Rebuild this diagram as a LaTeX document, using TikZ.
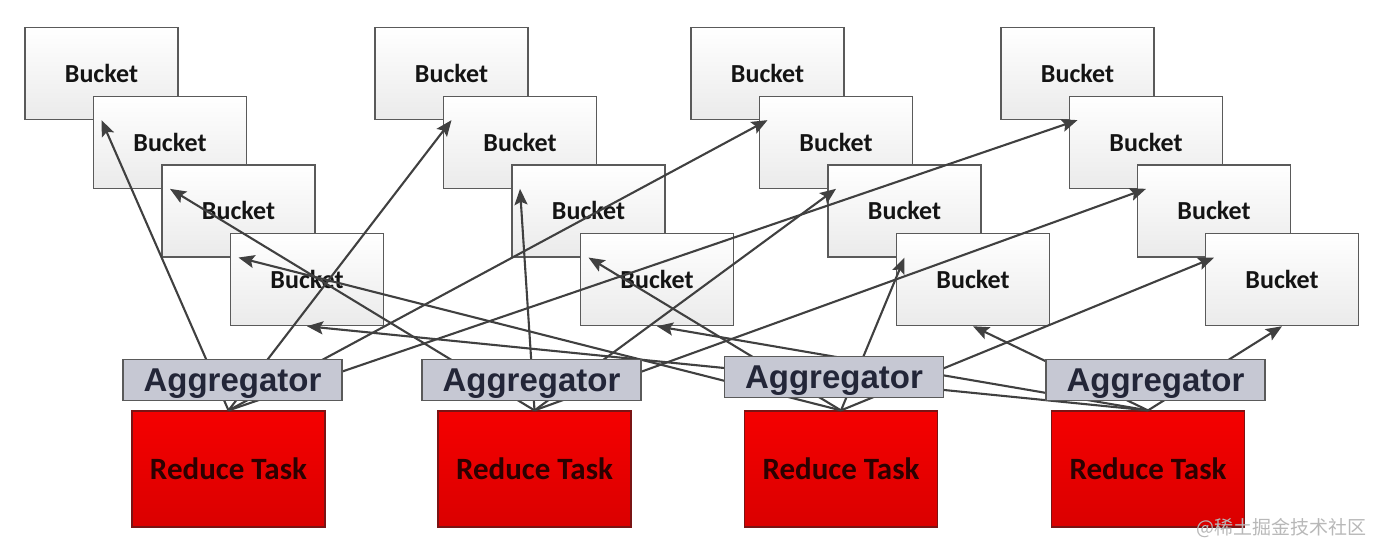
\documentclass[tikz,border=0pt]{standalone}
\usepackage{fontspec}
\usetikzlibrary{arrows.meta,positioning}
\newfontfamily\carlito{Carlito}
\newfontfamily\arialish{Liberation Sans}
\newfontfamily\cjk{Noto Sans CJK SC}
\definecolor{bktline}{HTML}{5A5A5A}
\definecolor{aggfill}{HTML}{C6C8D3}
\definecolor{aggtext}{HTML}{232638}
\definecolor{taskred}{HTML}{F50000}
\definecolor{taskdark}{HTML}{DA0000}
\definecolor{taskline}{HTML}{7A1414}
\definecolor{tasktext}{HTML}{2C0000}
\definecolor{arrline}{HTML}{404040}
\tikzset{
  bkt/.style={draw=bktline, line width=1.3pt, rectangle, minimum width=153pt, minimum height=92pt, inner sep=0pt, top color=white, bottom color=black!8, font=\carlito\bfseries\fontsize{26}{30}\selectfont, text=black!92},
  agg/.style={draw=bktline, line width=1.3pt, rectangle, minimum width=219pt, minimum height=41pt, inner sep=0pt, text depth=0pt, fill=aggfill, font=\arialish\bfseries\fontsize{33}{36}\selectfont, text=aggtext},
  task/.style={draw=taskline, line width=1.2pt, rectangle, minimum width=193pt, minimum height=116pt, inner sep=0pt, top color=taskred, bottom color=taskdark, font=\carlito\bfseries\fontsize{31}{34}\selectfont, text=tasktext},
  wmark/.style={font=\cjk\fontsize{19}{22}\selectfont, text=black!28},
  arr/.style={-{Stealth[length=16pt, width=13pt, inset=3pt]}, line width=2.1pt, draw=arrline},
}
\begin{document}
\begin{tikzpicture}[x=1pt, y=-1pt]
\useasboundingbox (0,0) rectangle (1378,556);

% buckets of the first map
\node[bkt] (b1A) at (101.5,73.5) {Bucket};
\node[bkt] (b1B) at (170,142.2) {Bucket};
\node[bkt] (b1C) at (238.5,210.9) {Bucket};
\node[bkt] (b1D) at (307,279.6) {Bucket};
% second map
\node[bkt] (b2A) at (451.5,73.5) {Bucket};
\node[bkt] (b2B) at (520,142.2) {Bucket};
\node[bkt] (b2C) at (588.5,210.9) {Bucket};
\node[bkt] (b2D) at (657,279.6) {Bucket};
% third map
\node[bkt] (b3A) at (767.5,73.5) {Bucket};
\node[bkt] (b3B) at (836,142.2) {Bucket};
\node[bkt] (b3C) at (904.5,210.9) {Bucket};
\node[bkt] (b3D) at (973,279.6) {Bucket};
% fourth map
\node[bkt] (b4A) at (1077.5,73.5) {Bucket};
\node[bkt] (b4B) at (1146,142.2) {Bucket};
\node[bkt] (b4C) at (1214,210.9) {Bucket};
\node[bkt] (b4D) at (1282,279.6) {Bucket};

% reduce tasks
\node[task] (taskA) at (228.5,469) {Reduce Task};
\node[task] (taskB) at (534.5,469) {Reduce Task};
\node[task] (taskC) at (841,469) {Reduce Task};
\node[task] (taskD) at (1148,469) {Reduce Task};

% fetch lines
\draw[arr] (taskA.north) -- (b1A.south);
\draw[arr] (taskA.north) -- (b2A.south);
\draw[arr] (taskA.north) -- (b3A.south);
\draw[arr] (taskA.north) -- (b4A.south);
\draw[arr] (taskB.north) -- (b1B.south);
\draw[arr] (taskB.north) -- (b2B.south);
\draw[arr] (taskB.north) -- (b3B.south);
\draw[arr] (taskB.north) -- (b4B.south);
\draw[arr] (taskC.north) -- (b1C.south);
\draw[arr] (taskC.north) -- (b2C.south);
\draw[arr] (taskC.north) -- (b3C.south);
\draw[arr] (taskC.north) -- (b4C.south);
\draw[arr] (taskD.north) -- (b1D.south);
\draw[arr] (taskD.north) -- (b2D.south);
\draw[arr] (taskD.north) -- (b3D.south);
\draw[arr] (taskD.north) -- (b4D.south);

% aggregators sit over the lines
\node[agg, above=9pt of taskA, xshift=4pt] (aggA) {Aggregator};
\node[agg, above=9pt of taskB, xshift=-3pt] (aggB) {Aggregator};
\node[agg, above=12pt of taskC, xshift=-7pt] (aggC) {Aggregator};
\node[agg, above=9pt of taskD, xshift=7.5pt] (aggD) {Aggregator};

\node[wmark] (wm) at (1281,528) {@稀土掘金技术社区};

\end{tikzpicture}
\end{document}
